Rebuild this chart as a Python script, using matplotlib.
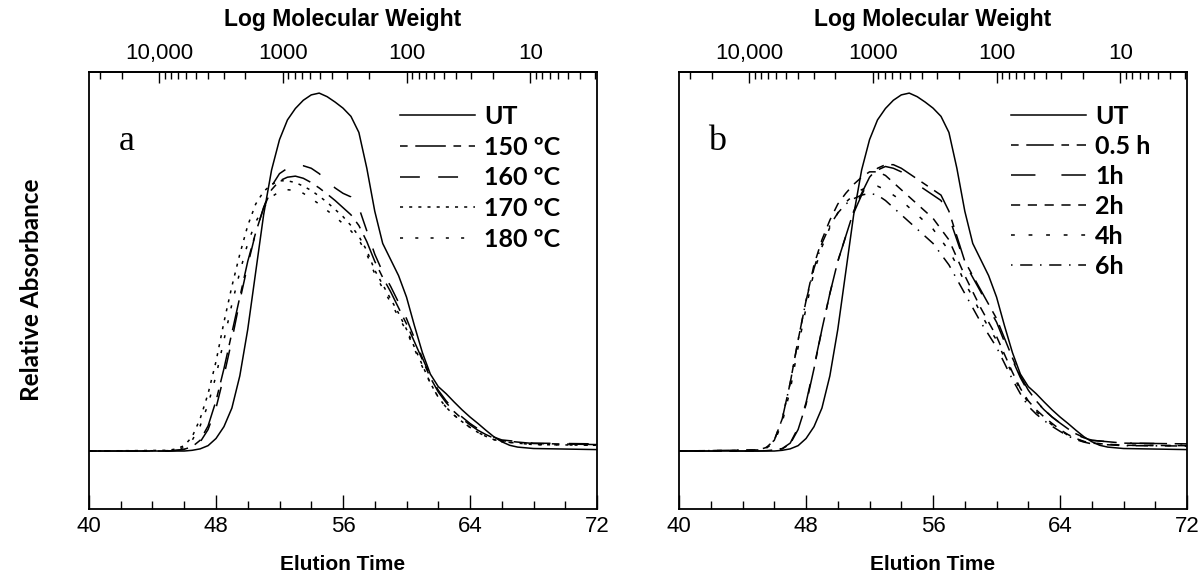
import matplotlib
matplotlib.use("Agg")
import matplotlib.pyplot as plt
import numpy as np

# Elution time grid (min) for the treated traces
t = [40, 45.0, 45.5, 46.0, 46.5, 47.0, 47.5, 48.0, 48.5, 49.0, 49.5, 50.0, 50.5,
     51.0, 51.5, 52.0, 52.5, 53.0, 53.5, 54.0, 54.5, 55.0, 55.5, 56.0, 56.5,
     57.0, 57.5, 58.0, 58.5, 59.0, 59.5, 60.0, 60.5, 61.0, 61.5, 62.0, 62.5,
     63.0, 63.5, 64.0, 64.5, 65.0, 65.5, 66.0, 68.0, 72.0]

# untreated trace
t_ut = [40, 46.0, 46.5, 47.0, 47.5, 48.0, 48.5, 49.0, 49.5, 50.0, 50.5, 51.0,
        51.5, 52.0, 52.5, 53.0, 53.5, 54.0, 54.5, 55.0, 55.5, 56.0, 56.5, 57.0,
        57.5, 58.0, 58.5, 59.0, 59.5, 60.0, 60.5, 61.0, 61.5, 62.0, 62.5, 63.0,
        63.5, 64.0, 64.5, 65.0, 65.5, 66.0, 66.5, 67.0, 68.0, 72.0]
ut = [0, 0, 0.002, 0.006, 0.015, 0.035, 0.068, 0.12, 0.21, 0.34, 0.50, 0.66,
      0.785, 0.87, 0.925, 0.957, 0.980, 0.995, 1.0, 0.99, 0.975, 0.958, 0.935,
      0.89, 0.79, 0.67, 0.58, 0.535, 0.49, 0.43, 0.35, 0.275, 0.215, 0.18,
      0.16, 0.137, 0.115, 0.095, 0.077, 0.058, 0.04, 0.026, 0.016, 0.011,
      0.007, 0.004]

# panel a: temperature series
a150 = [0, 0, 0.002, 0.005, 0.012, 0.03, 0.07, 0.14, 0.23, 0.33, 0.43, 0.53,
        0.61, 0.68, 0.73, 0.755, 0.765, 0.768, 0.762, 0.75, 0.735, 0.718, 0.70,
        0.68, 0.66, 0.63, 0.585, 0.53, 0.485, 0.445, 0.40, 0.355, 0.305, 0.255,
        0.205, 0.165, 0.135, 0.11, 0.09, 0.073, 0.058, 0.046, 0.036, 0.029,
        0.021, 0.018]
a160 = [0, 0, 0.002, 0.004, 0.01, 0.025, 0.06, 0.12, 0.21, 0.31, 0.42, 0.52,
        0.61, 0.68, 0.74, 0.775, 0.79, 0.797, 0.797, 0.79, 0.775, 0.755, 0.735,
        0.72, 0.71, 0.68, 0.615, 0.55, 0.5, 0.46, 0.415, 0.37, 0.315, 0.26,
        0.21, 0.17, 0.14, 0.115, 0.095, 0.077, 0.062, 0.049, 0.039, 0.031,
        0.022, 0.02]
a170 = [0, 0.002, 0.006, 0.015, 0.04, 0.09, 0.16, 0.25, 0.36, 0.46, 0.55, 0.63,
        0.69, 0.725, 0.745, 0.755, 0.755, 0.75, 0.74, 0.728, 0.712, 0.695,
        0.675, 0.655, 0.63, 0.60, 0.56, 0.505, 0.465, 0.425, 0.385, 0.34, 0.29,
        0.24, 0.19, 0.15, 0.122, 0.10, 0.082, 0.066, 0.052, 0.041, 0.032,
        0.026, 0.018, 0.016]
a180 = [0, 0.001, 0.004, 0.01, 0.03, 0.07, 0.13, 0.21, 0.31, 0.41, 0.50, 0.58,
        0.64, 0.68, 0.71, 0.725, 0.73, 0.728, 0.72, 0.705, 0.69, 0.672, 0.655,
        0.635, 0.615, 0.59, 0.55, 0.495, 0.455, 0.415, 0.375, 0.335, 0.285,
        0.235, 0.19, 0.15, 0.122, 0.10, 0.082, 0.066, 0.052, 0.041, 0.032,
        0.026, 0.018, 0.016]

# panel b: reaction time series
b05 = [0, 0, 0.001, 0.003, 0.006, 0.02, 0.06, 0.13, 0.23, 0.34, 0.44, 0.53,
       0.60, 0.67, 0.72, 0.765, 0.79, 0.80, 0.80, 0.79, 0.775, 0.76, 0.745,
       0.73, 0.715, 0.67, 0.60, 0.53, 0.49, 0.45, 0.41, 0.37, 0.315, 0.26,
       0.21, 0.17, 0.14, 0.115, 0.095, 0.078, 0.062, 0.048, 0.038, 0.03,
       0.022, 0.02]
b1 = [0, 0, 0.001, 0.003, 0.007, 0.022, 0.065, 0.135, 0.235, 0.34, 0.44, 0.53,
      0.60, 0.665, 0.715, 0.76, 0.785, 0.795, 0.79, 0.78, 0.765, 0.745, 0.73,
      0.715, 0.70, 0.655, 0.59, 0.525, 0.485, 0.445, 0.40, 0.36, 0.305, 0.255,
      0.205, 0.165, 0.138, 0.115, 0.095, 0.078, 0.061, 0.046, 0.037, 0.03,
      0.022, 0.02]
b2 = [0, 0.003, 0.01, 0.03, 0.09, 0.19, 0.31, 0.42, 0.52, 0.59, 0.645, 0.69,
      0.72, 0.745, 0.765, 0.78, 0.78, 0.77, 0.75, 0.73, 0.71, 0.69, 0.67, 0.65,
      0.62, 0.59, 0.54, 0.49, 0.445, 0.40, 0.36, 0.32, 0.27, 0.22, 0.175, 0.14,
      0.115, 0.095, 0.077, 0.06, 0.046, 0.035, 0.027, 0.022, 0.016, 0.015]
b4 = [0, 0.002, 0.008, 0.025, 0.08, 0.17, 0.29, 0.40, 0.50, 0.57, 0.625, 0.665,
      0.695, 0.715, 0.73, 0.74, 0.74, 0.73, 0.715, 0.70, 0.68, 0.66, 0.64,
      0.62, 0.59, 0.56, 0.52, 0.47, 0.43, 0.385, 0.345, 0.31, 0.26, 0.215,
      0.17, 0.135, 0.11, 0.09, 0.073, 0.058, 0.044, 0.034, 0.026, 0.022,
      0.016, 0.015]
b6 = [0, 0.003, 0.01, 0.03, 0.09, 0.19, 0.31, 0.42, 0.51, 0.58, 0.63, 0.665,
      0.69, 0.705, 0.715, 0.72, 0.715, 0.70, 0.68, 0.66, 0.64, 0.62, 0.60,
      0.58, 0.55, 0.52, 0.48, 0.44, 0.40, 0.36, 0.325, 0.29, 0.245, 0.20,
      0.16, 0.125, 0.103, 0.085, 0.069, 0.055, 0.042, 0.032, 0.025, 0.02,
      0.015, 0.014]

labels_a = ["UT", "150 ºC", "160 ºC", "170 ºC", "180 ºC"]
labels_b = ["UT", "0.5 h", "1h", "2h", "4h", "6h"]

# molecular weight calibration: t = T0 + (4 - logMW) * SLOPE
T0, SLOPE = 44.4, 7.8
mw_major = [10000, 1000, 100, 10]
mw_major_lbl = ["10,000", "1000", "100", "10"]

narrow = ["Liberation Sans Narrow", "Liberation Sans", "DejaVu Sans"]


def t2log(x):
    return 4 - (np.asarray(x, float) - T0) / SLOPE


def log2t(y):
    return T0 + (4 - np.asarray(y, float)) * SLOPE


def setup(ax, letter):
    ax.set_xlim(40, 72)
    ax.set_ylim(-0.162, 1.059)
    ax.set_yticks([])
    ax.set_xticks([40, 48, 56, 64, 72])
    ax.set_xticks(np.arange(42, 72, 2), minor=True)
    ax.tick_params(axis="x", which="both", direction="in", top=False, pad=5)
    ax.tick_params(axis="x", which="major", length=10, width=1.0)
    ax.tick_params(axis="x", which="minor", length=6, width=1.0)
    for lb in ax.get_xticklabels():
        lb.set_family(narrow)
        lb.set_fontsize(16)
    for sp in ax.spines.values():
        sp.set_linewidth(1.3)
    ax.set_xlabel("Elution Time", family=narrow, fontsize=15, fontweight="bold")
    ax.xaxis.set_label_coords(0.5, -0.105)

    sec = ax.secondary_xaxis("top", functions=(t2log, log2t))
    sec.set_xticks(np.log10(mw_major))
    sec.set_xticklabels(mw_major_lbl)
    minors = [np.log10(n * 10 ** k) for k in range(0, 5) for n in range(2, 10)]
    minors = [m for m in minors if 0.46 < m < 4.56]
    sec.set_xticks(minors, minor=True)
    sec.tick_params(which="both", direction="in", pad=6, labelsize=16)
    sec.tick_params(which="major", length=8, width=1.0)
    sec.tick_params(which="minor", length=5, width=1.0)
    for lb in sec.get_xticklabels():
        lb.set_family("Liberation Sans")
    sec.spines["top"].set_linewidth(1.3)
    ax.text(0.5, 1.12, "Log Molecular Weight", transform=ax.transAxes,
            ha="center", va="center", fontsize=16.5, fontweight="bold",
            family="Liberation Sans")
    ax.text(0.075, 0.84, letter, transform=ax.transAxes, ha="center",
            va="center", fontsize=26, family="Liberation Serif")


fig = plt.figure(figsize=(12.01, 5.8), dpi=100)
ax1 = fig.add_axes([0.0741, 0.1224, 0.4230, 0.7535])
ax2 = fig.add_axes([0.5654, 0.1224, 0.4230, 0.7535])

lw = 1.1
styles_a = [(0, (5, 5, 20, 5)), (0, (13, 12)), (0, (2, 4)), (0, (2, 8))]
styles_b = [(0, (5, 5, 18, 5)), (0, (16, 17)), (0, (6, 5)), (0, (2.5, 9)),
            (0, (1, 5, 8, 5))]

ax1.plot(t_ut, ut, color="black", lw=lw, label=labels_a[0])
for ys, ls, lab in zip([a150, a160, a170, a180], styles_a, labels_a[1:]):
    ax1.plot(t, ys, color="black", lw=lw, linestyle=ls, label=lab)

ax2.plot(t_ut, ut, color="black", lw=lw, label=labels_b[0])
for ys, ls, lab in zip([b05, b1, b2, b4, b6], styles_b, labels_b[1:]):
    ax2.plot(t, ys, color="black", lw=lw, linestyle=ls, label=lab)

for ax, letter, sp in [(ax1, "a", 0.31), (ax2, "b", 0.28)]:
    setup(ax, letter)
    ax.legend(loc="upper right", bbox_to_anchor=(0.928, 0.925), frameon=False,
              handlelength=3.0, handletextpad=0.35, labelspacing=sp,
              borderaxespad=0, borderpad=0,
              prop={"family": "Lato", "weight": "bold", "size": 18},
              alignment="left")

fig.text(0.026, 0.5, "Relative Absorbance", rotation=90, ha="center",
         va="center", fontsize=17.5, fontweight="bold", family="Lato")

fig.savefig("out.png", dpi=100)
